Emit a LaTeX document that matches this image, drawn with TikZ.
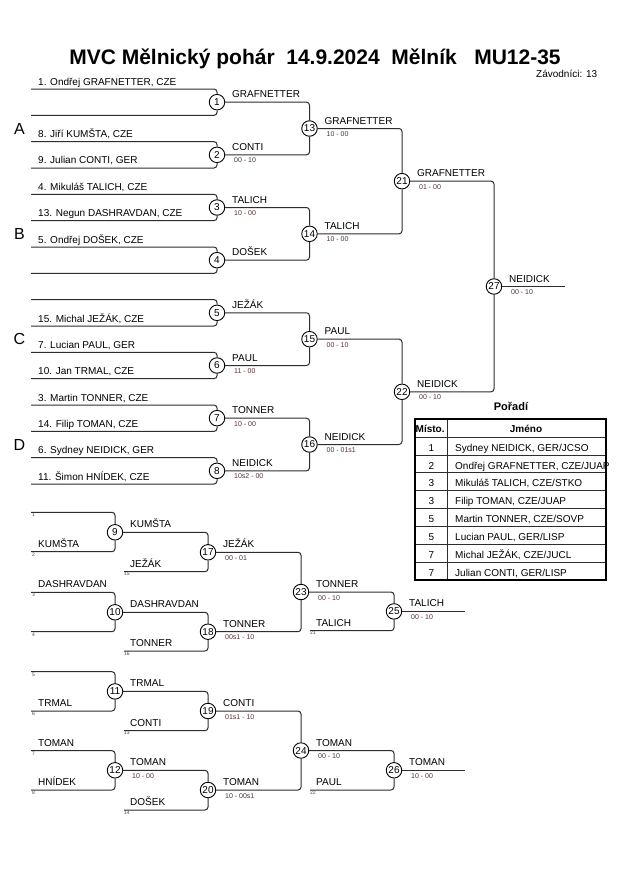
\documentclass[tikz,border=0pt]{standalone}
\usepackage{fontspec}
\setmainfont{Liberation Sans}
\definecolor{linecol}{RGB}{45,45,45}
\definecolor{scorecol}{RGB}{85,50,50}
\definecolor{tinycol}{RGB}{70,70,95}
\tikzset{
  mc/.style={circle, draw=black, fill=white, minimum size=15.5pt, inner sep=0pt, line width=0.9pt, font=\fontsize{10}{10}\selectfont},
  nm/.style={anchor=base west, inner sep=0pt, font=\fontsize{10}{12}\selectfont},
  sc/.style={anchor=base west, inner sep=0pt, font=\fontsize{7}{8}\selectfont, text=scorecol},
  tn/.style={anchor=base west, inner sep=0pt, font=\fontsize{5}{6}\selectfont, text=tinycol},
  ln/.style={line width=1pt, draw=linecol, rounded corners=3pt},
  grp/.style={anchor=base, inner sep=0pt, font=\fontsize{16}{16}\selectfont},
  tb/.style={inner sep=0pt, font=\fontsize{10}{12}\selectfont},
}
\newcommand\bkWin[3]{%
  \node[nm] (w#1) at ([xshift=15pt,yshift=4.5pt]m#1.center) {#2};%
  \if\relax\detokenize{#3}\relax\else
  \node[sc] (s#1) at ([xshift=17pt,yshift=-8pt]m#1.center) {#3};\fi}
\begin{document}
\begin{tikzpicture}[x=1pt,y=-1pt]
\useasboundingbox[fill=white] (0,0) rectangle (630,891);

% title
\node[anchor=base, inner sep=0pt, font=\bfseries\fontsize{21}{24}\selectfont] (title) at (315,64) {MVC Mělnický pohár\ \ 14.9.2024\ \ Mělník\ \ \ MU12-35};
\node[anchor=base west, inner sep=0pt, font=\fontsize{10}{11}\selectfont] (zav) at (536,77.7) {Závodníci: 13};

% group letters
\node[grp] (gA) at (19.5,134.3) {A};
\node[grp] (gB) at (19.5,239.6) {B};
\node[grp] (gC) at (19.5,344.9) {C};
\node[grp] (gD) at (19.5,450.3) {D};

% main bracket entries
\foreach \i in {0,...,15}{\coordinate (e\i) at (31,{89+26.333*\i});}
\foreach \i/\t in {0/{1. Ondřej GRAFNETTER, CZE},2/{8. Jiří KUMŠTA, CZE},3/{9. Julian CONTI, GER},
  4/{4. Mikuláš TALICH, CZE},5/{13. Negun DASHRAVDAN, CZE},6/{5. Ondřej DOŠEK, CZE},
  9/{15. Michal JEŽÁK, CZE},10/{7. Lucian PAUL, GER},11/{10. Jan TRMAL, CZE},
  12/{3. Martin TONNER, CZE},13/{14. Filip TOMAN, CZE},14/{6. Sydney NEIDICK, GER},15/{11. Šimon HNÍDEK, CZE}}{
  \node[nm] (el\i) at (38,{85+26.333*\i}) {\t};}

% round 1
\foreach \k in {1,...,8}{\node[mc] (m\k) at (217,{89+26.333*(2*\k-1.5)}) {\k};}
\foreach \k in {1,...,8}{
  \pgfmathtruncatemacro\a{2*\k-2}\pgfmathtruncatemacro\b{2*\k-1}
  \draw[ln] (e\a) -| (m\k.north);
  \draw[ln] (e\b) -| (m\k.south);}
% round 2
\foreach \j in {1,...,4}{\pgfmathtruncatemacro\n{12+\j}
  \node[mc] (m\n) at (309.5,{89+26.333*(4*\j-2.5)}) {\n};}
\foreach \j in {1,...,4}{\pgfmathtruncatemacro\n{12+\j}\pgfmathtruncatemacro\a{2*\j-1}\pgfmathtruncatemacro\b{2*\j}
  \draw[ln] (m\a.east) -| (m\n.north);
  \draw[ln] (m\b.east) -| (m\n.south);}
% round 3
\node[mc] (m21) at (402,{89+26.333*3.5}) {21};
\node[mc] (m22) at (402,{89+26.333*11.5}) {22};
\draw[ln] (m13.east) -| (m21.north);
\draw[ln] (m14.east) -| (m21.south);
\draw[ln] (m15.east) -| (m22.north);
\draw[ln] (m16.east) -| (m22.south);
% final
\node[mc] (m27) at (494,{89+26.333*7.5}) {27};
\draw[ln] (m21.east) -| (m27.north);
\draw[ln] (m22.east) -| (m27.south);
\coordinate (f27) at (565,{89+26.333*7.5});
\draw[ln] (m27.east) -- (f27);

\bkWin{1}{GRAFNETTER}{}
\bkWin{2}{CONTI}{00 - 10}
\bkWin{3}{TALICH}{10 - 00}
\bkWin{4}{DOŠEK}{}
\bkWin{5}{JEŽÁK}{}
\bkWin{6}{PAUL}{11 - 00}
\bkWin{7}{TONNER}{10 - 00}
\bkWin{8}{NEIDICK}{10s2 - 00}
\bkWin{13}{GRAFNETTER}{10 - 00}
\bkWin{14}{TALICH}{10 - 00}
\bkWin{15}{PAUL}{00 - 10}
\bkWin{16}{NEIDICK}{00 - 01s1}
\bkWin{21}{GRAFNETTER}{01 - 00}
\bkWin{22}{NEIDICK}{00 - 10}
\bkWin{27}{NEIDICK}{00 - 10}

% results table
\node[anchor=base, inner sep=0pt, font=\bfseries\fontsize{11}{12}\selectfont] (por) at (511,410.7) {Pořadí};
\draw[line width=0.8pt, draw=linecol] (447.3,419.3) -- (447.3,580);
\foreach \r in {1,...,8}{\draw[line width=0.8pt, draw=linecol] (415,{419.3+17.85*\r}) -- (606,{419.3+17.85*\r});}
\draw[line width=2pt] (415,419.3) rectangle (606,580);
\node[tb, anchor=base west, font=\bfseries\fontsize{10}{12}\selectfont] (hm) at (415.5,432.5) {Místo.};
\node[tb, anchor=base, font=\bfseries\fontsize{10}{12}\selectfont] (hj) at (526,432.5) {Jméno};
\foreach \r/\p/\t in {1/1/{Sydney NEIDICK, GER/JCSO},2/2/{Ondřej GRAFNETTER, CZE/JUAP},3/3/{Mikuláš TALICH, CZE/STKO},
  4/3/{Filip TOMAN, CZE/JUAP},5/5/{Martin TONNER, CZE/SOVP},6/5/{Lucian PAUL, GER/LISP},
  7/7/{Michal JEŽÁK, CZE/JUCL},8/7/{Julian CONTI, GER/LISP}}{
  \node[tb, anchor=base] (tp\r) at (431.5,{419.3+17.85*\r+14}) {\p};
  \node[tb, anchor=base west] (tn\r) at (455,{419.3+17.85*\r+14}) {\t};}

% ---------- repechage upper ----------
\node[mc] (m9) at (115,532.3) {9};
\node[mc] (m10) at (115,612.3) {10};
\node[mc] (m17) at (208,552.3) {17};
\node[mc] (m18) at (208,631.7) {18};
\node[mc] (m23) at (301,592) {23};
\node[mc] (m25) at (394,611.4) {25};
\coordinate (r1) at (31,512.3);
\coordinate (r2) at (31,551.7);
\coordinate (r3) at (31,592.3);
\coordinate (r4) at (31,631.7);
\coordinate (r15) at (124,571.7);
\coordinate (r16) at (124,651);
\coordinate (r21) at (310,630.7);
\coordinate (f25) at (465,611.4);
\draw[ln] (r1) -| (m9.north);
\draw[ln] (r2) -| (m9.south);
\draw[ln] (r3) -| (m10.north);
\draw[ln] (r4) -| (m10.south);
\draw[ln] (m9.east) -| (m17.north);
\draw[ln] (r15) -| (m17.south);
\draw[ln] (m10.east) -| (m18.north);
\draw[ln] (r16) -| (m18.south);
\draw[ln] (m17.east) -| (m23.north);
\draw[ln] (m18.east) -| (m23.south);
\draw[ln] (m23.east) -| (m25.north);
\draw[ln] (r21) -| (m25.south);
\draw[ln] (m25.east) -- (f25);
\node[tn] (t1) at (32,516.5) {1};
\node[tn] (t2) at (32,556) {2};
\node[tn] (t3) at (32,596.5) {3};
\node[tn] (t4) at (32,636) {4};
\node[tn] (t15) at (124,575.5) {15};
\node[tn] (t16) at (124,655) {16};
\node[tn] (t21) at (310,634.5) {21};
\node[nm] (l2) at (38,547.2) {KUMŠTA};
\node[nm] (l3) at (38,587.8) {DASHRAVDAN};
\node[nm] (l15) at (130,567.2) {JEŽÁK};
\node[nm] (l16) at (130,646.5) {TONNER};
\node[nm] (l21) at (316,626.2) {TALICH};
\bkWin{9}{KUMŠTA}{}
\bkWin{10}{DASHRAVDAN}{}
\bkWin{17}{JEŽÁK}{00 - 01}
\bkWin{18}{TONNER}{00s1 - 10}
\bkWin{23}{TONNER}{00 - 10}
\bkWin{25}{TALICH}{00 - 10}

% ---------- repechage lower ----------
\node[mc] (m11) at (115,691.4) {11};
\node[mc] (m12) at (115,770.3) {12};
\node[mc] (m19) at (208,711) {19};
\node[mc] (m20) at (208,790) {20};
\node[mc] (m24) at (301,750.5) {24};
\node[mc] (m26) at (394,770.3) {26};
\coordinate (r5) at (31,671.7);
\coordinate (r6) at (31,711);
\coordinate (r7) at (31,750.7);
\coordinate (r8) at (31,790);
\coordinate (r13) at (124,730.7);
\coordinate (r14) at (124,810);
\coordinate (r22) at (310,790);
\coordinate (f26) at (465,770.3);
\draw[ln] (r5) -| (m11.north);
\draw[ln] (r6) -| (m11.south);
\draw[ln] (r7) -| (m12.north);
\draw[ln] (r8) -| (m12.south);
\draw[ln] (m11.east) -| (m19.north);
\draw[ln] (r13) -| (m19.south);
\draw[ln] (m12.east) -| (m20.north);
\draw[ln] (r14) -| (m20.south);
\draw[ln] (m19.east) -| (m24.north);
\draw[ln] (m20.east) -| (m24.south);
\draw[ln] (m24.east) -| (m26.north);
\draw[ln] (r22) -| (m26.south);
\draw[ln] (m26.east) -- (f26);
\node[tn] (t5) at (32,676) {5};
\node[tn] (t6) at (32,715.5) {6};
\node[tn] (t7) at (32,755) {7};
\node[tn] (t8) at (32,794.5) {8};
\node[tn] (t13) at (124,734.5) {13};
\node[tn] (t14) at (124,814) {14};
\node[tn] (t22) at (310,794) {22};
\node[nm] (l6) at (38,706.5) {TRMAL};
\node[nm] (l7) at (38,746.2) {TOMAN};
\node[nm] (l8) at (38,785.5) {HNÍDEK};
\node[nm] (l13) at (130,726.2) {CONTI};
\node[nm] (l14) at (130,805.5) {DOŠEK};
\node[nm] (l22) at (316,785.5) {PAUL};
\bkWin{11}{TRMAL}{}
\bkWin{12}{TOMAN}{10 - 00}
\bkWin{19}{CONTI}{01s1 - 10}
\bkWin{20}{TOMAN}{10 - 00s1}
\bkWin{24}{TOMAN}{00 - 10}
\bkWin{26}{TOMAN}{10 - 00}
\end{tikzpicture}
\end{document}
